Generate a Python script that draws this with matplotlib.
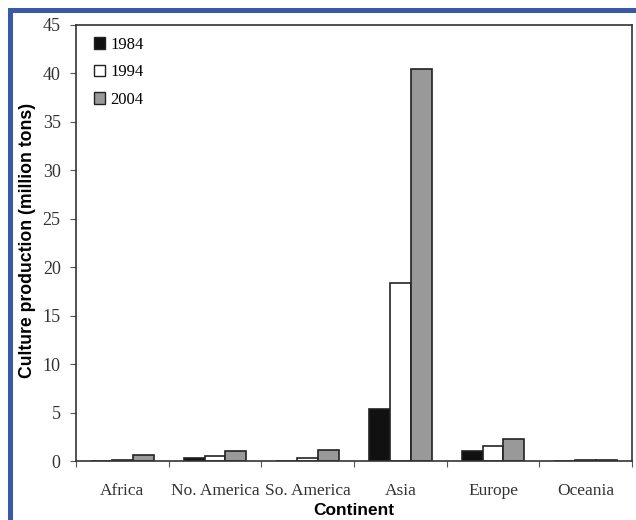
import matplotlib
matplotlib.use('Agg')
import matplotlib.pyplot as plt
from matplotlib.patches import Patch, Rectangle
import numpy as np

continents = ['Africa', 'No. America', 'So. America', 'Asia', 'Europe', 'Oceania']
years = ['1984', '1994', '2004']
prod_1984 = [0.05, 0.35, 0.05, 5.35, 1.0, 0.05]
prod_1994 = [0.1, 0.55, 0.3, 18.4, 1.55, 0.1]
prod_2004 = [0.6, 1.0, 1.15, 40.45, 2.25, 0.15]

colors = ['#111111', '#ffffff', '#999999']
serif = 'Liberation Serif'
sans = 'Liberation Sans'

fig = plt.figure(figsize=(6.36, 5.2), dpi=100)
fig.patch.set_facecolor('white')

# blue frame (top and left)
blue = '#3a58a8'
fig.patches.append(Rectangle((8/636, (520-13)/520), 1, 5/520, transform=fig.transFigure,
                             facecolor=blue, edgecolor='none', zorder=0))
fig.patches.append(Rectangle((8/636, 0), 5/636, (520-8)/520, transform=fig.transFigure,
                             facecolor=blue, edgecolor='none', zorder=0))

ax = fig.add_axes([76/636, 59/520, 556/636, 436/520])

x = np.arange(len(continents))
w = 0.225
for i, (vals, c) in enumerate(zip([prod_1984, prod_1994, prod_2004], colors)):
    ax.bar(x + (i - 1) * w, vals, width=w, color=c, edgecolor='#222222', linewidth=1.2)

ax.set_xlim(-0.5, 5.5)
ax.set_ylim(0, 45)
ax.set_yticks(np.arange(0, 46, 5))
ax.set_xticks(np.arange(-0.5, 6, 1))
ax.set_xticklabels([])
ax.set_xticks(x, minor=True)
ax.set_xticklabels(continents, minor=True, fontfamily=serif, fontsize=12.5, color='#333333')
ax.tick_params(axis='x', which='minor', length=0, pad=16)
ax.tick_params(axis='x', which='major', direction='out', length=4, color='#555555')
ax.tick_params(axis='y', direction='out', length=4, color='#555555', pad=7)
for lbl in ax.get_yticklabels():
    lbl.set_fontfamily(serif)
    lbl.set_fontsize(13)
    lbl.set_color('#333333')

for s in ax.spines.values():
    s.set_color('#333333')
    s.set_linewidth(1.2)

ax.set_ylabel('Culture production (million tons)', fontfamily=sans, fontweight='bold',
              fontsize=12.7)
ax.yaxis.set_label_coords(-0.072, 0.505)
ax.set_xlabel('Continent', fontfamily=sans, fontweight='bold', fontsize=12.5, labelpad=3)

handles = [Patch(facecolor=c, edgecolor='#222222', linewidth=1) for c in colors]
ax.legend(handles, years, loc='upper left', bbox_to_anchor=(0.005, 1.008), frameon=False,
          handlelength=0.7, handleheight=0.7, handletextpad=0.3, labelspacing=0.7,
          prop={'family': serif, 'size': 12})

fig.savefig('out.png', dpi=100, facecolor='white')
